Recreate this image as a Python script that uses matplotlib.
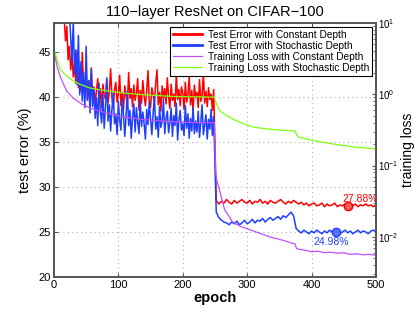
import numpy as np
import matplotlib
matplotlib.use("Agg")
import matplotlib.pyplot as plt

plt.rcParams["font.family"] = ["Liberation Sans", "DejaVu Sans"]
plt.rcParams["mathtext.fontset"] = "custom"
plt.rcParams["mathtext.rm"] = "Liberation Sans"
plt.rcParams["mathtext.it"] = "Liberation Sans"
plt.rcParams["mathtext.default"] = "regular"

# test error (%), epochs 2..248 step 2
epochs_early = np.arange(2, 250, 2)
const_err_early = [
    62, 60, 57, 55, 53, 51, 49.5, 48.6,
    46.2, 47.8, 44.1, 45.6, 43.0, 44.7, 42.2, 43.6, 41.5, 45.1, 41.0, 42.8,
    40.6, 44.9, 41.3, 40.1, 42.3, 39.6, 41.8, 40.4, 43.2, 39.8, 41.1, 39.2, 40.7, 42.0, 39.5, 40.9, 38.8, 41.4, 40.2, 39.7,
    41.9, 39.3, 40.6, 43.1, 39.9, 38.7, 40.8, 41.6, 39.4, 40.3, 42.4, 39.0, 40.5, 38.6, 41.2, 40.0, 39.2, 42.7, 39.8, 40.9,
    38.9, 41.3, 39.6, 40.4, 42.0, 38.5, 40.7, 39.3, 41.8, 40.1, 39.0, 40.6, 42.9, 39.5, 38.8, 41.0, 40.2, 39.4, 41.5, 43.0,
    39.1, 40.5, 38.4, 41.2, 39.8, 40.9, 39.2, 42.1, 40.0, 38.7, 41.4, 39.6, 40.3, 38.9, 42.5, 39.7, 40.8, 39.0, 41.1, 40.4,
    38.6, 41.6, 39.4, 40.2, 42.2, 39.1, 40.7, 38.3, 41.3, 39.9, 40.5, 38.8, 41.9, 39.5, 40.1, 42.6, 39.3, 40.6, 38.9, 41.0,
    39.7, 40.3, 38.5, 40.8,
]
stoch_err_early = [
    63, 61, 59, 58, 56, 55, 53, 52, 50.5, 49.5, 48.5, 49.2, 46.5,
    44.0, 48.5, 42.5, 45.2, 41.3, 46.8, 40.2, 43.9, 39.5, 42.7, 38.8, 45.6, 39.6, 41.8, 38.2, 43.0, 38.9,
    40.8, 37.6, 39.9, 36.8, 41.5, 38.3, 37.1, 40.2, 36.5, 38.9, 42.1, 37.3, 39.1, 36.2, 38.6, 40.4, 37.0, 38.1, 35.8, 39.5,
    37.4, 36.3, 39.8, 38.0, 35.6, 37.9, 40.6, 36.8, 38.5, 35.4, 37.7, 39.2, 36.1, 38.8, 37.2, 35.9, 39.6, 36.7, 38.3, 37.0,
    35.3, 38.6, 36.9, 39.4, 37.5, 35.8, 38.2, 40.1, 36.4, 37.8, 35.5, 38.9, 36.6, 37.3, 39.7, 35.9, 37.6, 38.4, 36.0, 37.1,
    38.7, 35.6, 37.9, 36.8, 39.3, 35.2, 37.4, 38.5, 36.3, 37.0, 35.7, 39.0, 36.5, 38.1, 35.4, 37.6, 36.2, 38.8, 35.9, 37.3,
    36.1, 38.4, 35.5, 37.2, 39.1, 35.8, 36.9, 38.0, 35.3, 37.5, 36.4, 38.6, 35.7, 37.8,
]

# test error (%), epochs 252..500 step 4
epochs_late = np.arange(252, 501, 4)
const_err_late = [
    28.5, 28.1, 28.4, 28.2, 28.6, 28.3, 28.1, 28.5, 28.2, 28.4, 28.6, 28.3, 28.2, 28.5, 28.1, 28.4,
    28.3, 28.6, 28.2, 28.4, 28.1, 28.5, 28.3, 28.2, 28.4, 28.6, 28.3, 28.1, 28.4, 28.2, 28.5, 28.3,
    28.1, 28.3, 28.0, 28.2, 27.9, 28.1, 28.2, 27.9, 28.0, 28.2, 27.8, 28.1, 27.9, 28.0, 28.2, 27.8,
    28.0, 27.9, 28.1, 27.8, 28.0, 27.9, 28.1, 27.8, 28.0, 27.9, 28.1, 27.9, 28.0, 27.8, 28.0,
]
stoch_err_late = [
    27.2, 26.6, 26.3, 26.1, 26.0, 25.8, 26.1, 25.9, 26.2, 25.8, 26.0, 26.3, 25.9, 26.1, 26.4, 26.0,
    26.3, 26.2, 26.5, 26.1, 26.4, 26.6, 26.3, 26.5, 26.7, 26.4, 26.8, 26.6, 26.9, 27.2, 26.8, 25.4,
    25.1, 24.9, 25.2, 25.0, 24.8, 25.1, 24.9, 25.2, 25.0, 24.8, 25.1, 24.9, 25.2, 25.0, 24.9, 25.1,
    24.8, 25.0, 25.2, 24.9, 25.1, 24.8, 25.0, 25.2, 24.9, 25.1, 25.0, 24.8, 25.1, 25.2, 25.0,
]

# training loss
const_loss_epochs = [0, 5, 10, 14, 20, 30, 45, 60, 80, 107, 140, 185, 220, 249,
                     251, 253, 258, 265, 278, 290, 304, 320, 335, 355, 371, 374,
                     377, 390, 400, 410, 420, 430, 440, 450, 460, 470, 480, 490, 500]
const_loss = [4.2, 2.4, 1.75, 1.44, 1.1, 0.88, 0.71, 0.62, 0.55, 0.48, 0.44, 0.41, 0.40, 0.40,
              0.08, 0.062, 0.042, 0.024, 0.016, 0.0140, 0.0126, 0.0112, 0.0100, 0.0090, 0.0081, 0.0080,
              0.0068, 0.0065, 0.0062, 0.0063, 0.0060, 0.0061, 0.0059, 0.0060, 0.0057, 0.0058, 0.0056, 0.0057, 0.0055]

stoch_loss_epochs = [0, 10, 20, 28, 40, 56, 80, 107, 140, 185, 220, 249,
                     252, 256, 260, 270, 280, 290, 300, 310, 320, 340, 360, 374,
                     377, 380, 390, 400, 410, 420, 430, 440, 450, 460, 470, 480, 490, 500]
stoch_loss = [4.2, 2.2, 1.8, 1.58, 1.38, 1.22, 1.12, 1.04, 0.98, 0.93, 0.92, 0.91,
              0.75, 0.62, 0.56, 0.49, 0.44, 0.40, 0.37, 0.345, 0.335, 0.32, 0.31, 0.305,
              0.27, 0.25, 0.238, 0.226, 0.218, 0.210, 0.203, 0.196, 0.190, 0.186, 0.180, 0.178, 0.174, 0.172]

best_const = (457, 27.88)
best_stoch = (438, 24.98)

c_red = "#ff0000"
c_blue = "#1f3fff"
c_purple = "#c050ff"
c_green = "#80ff10"

fig = plt.figure(figsize=(4.15, 3.13), dpi=100)
ax = fig.add_axes([0.130, 0.115, 0.776, 0.812])
ax2 = ax.twinx()

e_const = np.concatenate([epochs_early, epochs_late])
h1, = ax.plot(e_const, const_err_early + const_err_late, color=c_red, lw=1.1)
h2, = ax.plot(e_const, stoch_err_early + stoch_err_late, color=c_blue, lw=1.1)

ax.plot(*best_const, "o", ms=6, mfc="#ff5a5a", mec=c_red, mew=1)
ax.plot(*best_stoch, "o", ms=6, mfc="#5a70ff", mec=c_blue, mew=1)
ax.text(475, 28.7, "27.88%", color=c_red, fontsize=7.5, ha="center", va="center")
ax.text(430, 23.9, "24.98%", color=c_blue, fontsize=7.5, ha="center", va="center")

h3, = ax2.plot(const_loss_epochs, const_loss, color=c_purple, lw=0.9)
h4, = ax2.plot(stoch_loss_epochs, stoch_loss, color=c_green, lw=0.9)
ax2.set_yscale("log")

ax.set_xlim(0, 500)
ax.set_ylim(20, 48.2)
ax2.set_ylim(0.00274, 10)
ax.set_xticks([0, 100, 200, 300, 400, 500])
ax.set_yticks([20, 25, 30, 35, 40, 45])
ax2.set_yticks([0.01, 0.1, 1, 10])
ax2.set_yticklabels(["$10^{-2}$", "$10^{-1}$", "$10^{0}$", "$10^{1}$"])

ax.grid(True, linestyle=(0, (1, 3)), color="#b0b0b0", lw=0.8)
ax.set_axisbelow(True)

for a in (ax, ax2):
    a.tick_params(direction="in", labelsize=8, length=3, color="#555555", top=True, pad=2)
    for s in a.spines.values():
        s.set_color("#555555")
        s.set_linewidth(1.2)
ax2.tick_params(axis="y", labelsize=7, pad=1.5)
ax2.tick_params(which="minor", direction="in", length=2, color="#555555")

ax.set_title("110\u2212layer ResNet on CIFAR\u2212100", fontsize=10.5, pad=5)
ax.set_xlabel("epoch", fontsize=10.5, fontweight="bold", labelpad=1)
ax.set_ylabel("test error (%)", fontsize=10.5, labelpad=5)
ax2.set_ylabel("training loss", fontsize=10, rotation=90, va="center", ha="center")
ax2.yaxis.set_label_coords(1.098, 0.5)

leg = ax2.legend([h1, h2, h3, h4],
                 ["Test Error with Constant Depth", "Test Error with Stochastic Depth",
                  "Training Loss with Constant Depth", "Training Loss with Stochastic Depth"],
                 loc="upper right", fontsize=7.3, fancybox=False, framealpha=1,
                 edgecolor="black", handlelength=2.9, borderpad=0.3, labelspacing=0.1,
                 handletextpad=0.5, borderaxespad=0.4)
leg.get_frame().set_linewidth(0.8)
for line in leg.get_lines()[:2]:
    line.set_linewidth(2)

fig.savefig("out.png", dpi=100)
